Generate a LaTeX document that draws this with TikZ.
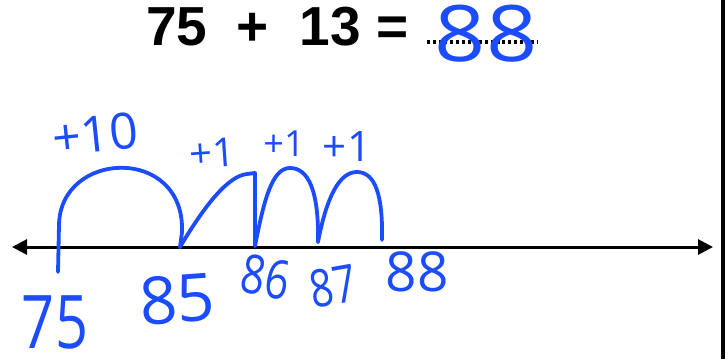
\documentclass[tikz,border=0pt]{standalone}
\usepackage{fontspec}
\setmainfont{Liberation Sans}
\newfontfamily\handfont{Open Sans}
\newfontfamily\handnarrow[FakeStretch=0.78]{Open Sans}
\usetikzlibrary{arrows.meta}
\definecolor{penblue}{RGB}{28,76,255}

\tikzset{
  pen/.style={penblue, line width=3.8pt, line cap=round, line join=round},
  handlbl/.style={text=penblue, inner sep=0pt, font=\handfont\fontsize{#1}{#1}\selectfont},
  handnar/.style={text=penblue, inner sep=0pt, font=\handnarrow\fontsize{#1}{#1}\selectfont},
}

\begin{document}
\begin{tikzpicture}[x=1pt,y=-1pt]
\useasboundingbox (0,0) rectangle (728,359);

% right edge bar
\fill (721,0) rectangle (725,359);

% sum
\node[anchor=base west, inner sep=0pt, font=\bfseries\fontsize{55}{60}\selectfont] (sum) at (146,45)
  {75\hspace{29pt}+\hspace{31pt}13\hspace{16pt}=};
\coordinate (blankL) at (427,42);
\coordinate (blankR) at (538,42);
\draw[line width=3.2pt, dash pattern=on 3pt off 2.8pt] (blankL) -- (blankR);
\node[handlbl=78, xscale=1.15] (answer) at (486,34) {88};

% number line
\coordinate (lineL) at (12,247);
\coordinate (lineR) at (713,247);
\draw[line width=3pt, {Triangle[length=15pt,width=15pt]}-{Triangle[length=15pt,width=15pt]}] (lineL) -- (lineR);

% jumps
\coordinate (t75) at (58,272);
\coordinate (n85) at (180,247);
\coordinate (n86) at (255,246);
\coordinate (n87) at (318,242);
\coordinate (n88) at (382,240);
\draw[pen] (t75) -- (59,225) .. controls (60,150) and (185,145) .. (182,232) -- (n85);
\draw[pen] (n85) .. controls (205,205) and (228,176) .. (247,174) -- (255,173) -- (n86);
\draw[pen] (n86) .. controls (264,200) and (272,168) .. (290,168) .. controls (308,168) and (319,190) .. (n87);
\draw[pen] (n87) .. controls (327,195) and (340,172) .. (357,172) .. controls (375,172) and (383,195) .. (n88);

% jump labels
\node[handlbl=50, rotate=6] (lbl10) at (95,134) {+10};
\node[handlbl=40, rotate=4] (lbl1a) at (212,153) {+1};
\node[handlbl=36] (lbl1b) at (284,144) {+1};
\node[handlbl=42] (lbl1c) at (347,147) {+1};

% numbers
\node[handnar=74] (lbl75) at (55,322) {75};
\node[handlbl=66, rotate=4] (lbl85) at (177,299) {85};
\node[handnar=54, rotate=-10] (lbl86) at (266,277) {86};
\node[handnar=52, rotate=10] (lbl87) at (333,286) {87};
\node[handlbl=55] (lbl88) at (417,272) {88};
\end{tikzpicture}
\end{document}
